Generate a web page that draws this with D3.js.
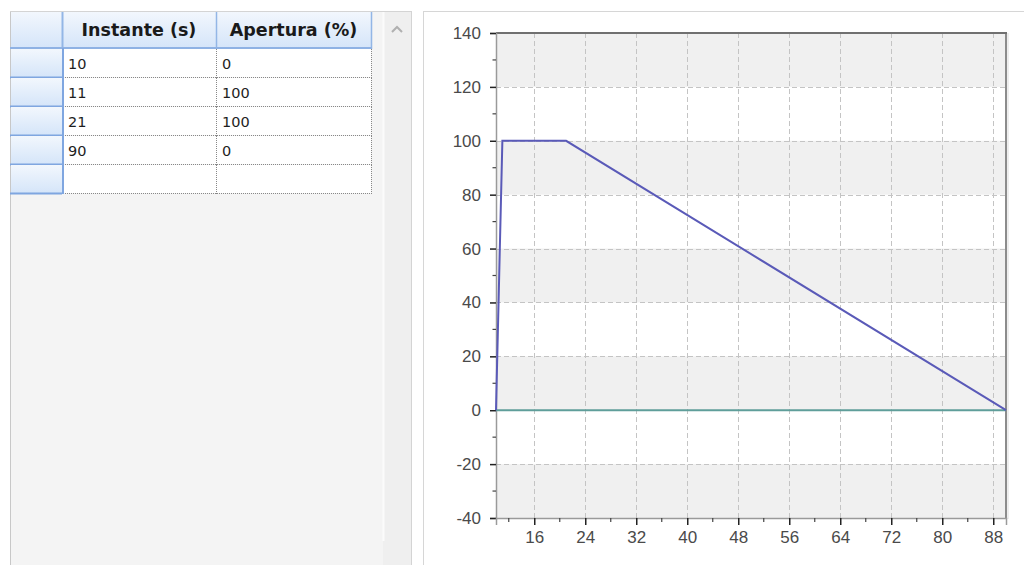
<!DOCTYPE html>
<html><head><meta charset="utf-8">
<script src="https://cdn.jsdelivr.net/npm/d3@7"></script>
<style>html,body{margin:0;padding:0;background:#fff;overflow:hidden}</style>
</head><body>
<svg id="c" width="1024" height="565"></svg>
<script>
// ---- data ----
const columns = ["Instante (s)", "Apertura (%)"];
const instantes = [10, 11, 21, 90];
const aperturas = [0, 100, 100, 0];
const baseX = [10, 90];
const baseY = [0, 0];
const xTickValues = [16, 24, 32, 40, 48, 56, 64, 72, 80, 88];
const yTickValues = [-40, -20, 0, 20, 40, 60, 80, 100, 120, 140];

const svg = d3.select("#c");
const defs = svg.append("defs");
const g1 = defs.append("linearGradient").attr("id","hdr").attr("x1",0).attr("y1",0).attr("x2",0).attr("y2",1);
g1.append("stop").attr("offset","0%").attr("stop-color","#f2f7fd");
g1.append("stop").attr("offset","100%").attr("stop-color","#d5e5f9");

// ---- left table panel ----
const T = {x:10, y:11, hdrH:37, rowH:29, c0:62, c1:216, c2:371, right:383};
svg.append("rect").attr("x",T.x).attr("y",T.y).attr("width",T.right-T.x).attr("height",565-T.y).attr("fill","#f4f4f4");
// scrollbar
svg.append("rect").attr("x",383).attr("y",T.y).attr("width",29).attr("height",565-T.y).attr("fill","#efefef");
svg.append("line").attr("x1",383.5).attr("x2",383.5).attr("y1",T.y).attr("y2",541).attr("stroke","#fbfbfb").attr("stroke-width",2);
svg.append("path").attr("d","M392,32 L397,27 L402,32").attr("fill","none").attr("stroke","#b0b0b0").attr("stroke-width",2);
svg.append("line").attr("x1",411.5).attr("x2",411.5).attr("y1",T.y).attr("y2",565).attr("stroke","#d4d4d4");
svg.append("line").attr("x1",T.x+0.5).attr("x2",T.x+0.5).attr("y1",T.y).attr("y2",565).attr("stroke","#c8c8c8");
svg.append("line").attr("x1",T.x).attr("x2",412).attr("y1",T.y+0.5).attr("y2",T.y+0.5).attr("stroke","#d4d4d4");

// header
const hy = T.y+1;
svg.append("rect").attr("x",T.x+1).attr("y",hy).attr("width",T.c2-T.x-1).attr("height",T.hdrH-1).attr("fill","url(#hdr)");
const colX = [T.c0, T.c1, T.c2];
columns.forEach((c,i)=>{
  svg.append("text").attr("x",(colX[i]+colX[i+1])/2).attr("y",hy+(T.hdrH-1)/2).attr("dy","0.36em")
    .attr("text-anchor","middle").attr("font-family","DejaVu Sans, Verdana, sans-serif").attr("font-weight","bold")
    .attr("font-size",17.5).attr("fill","#1a1a1a").text(c);
});
[T.c0, T.c1, T.c2].forEach(x=>{
  svg.append("line").attr("x1",x+0.5).attr("x2",x+0.5).attr("y1",hy).attr("y2",hy+T.hdrH).attr("stroke","#93b6e6").attr("stroke-width",x===T.c0?2:1.5);
});
const bodyY = T.y+T.hdrH;
svg.append("line").attr("x1",T.x).attr("x2",T.c2+1).attr("y1",bodyY).attr("y2",bodyY).attr("stroke","#8fb2e4").attr("stroke-width",2);

// rows (4 data + 1 empty)
const rows = instantes.map((t,i)=>[String(t), String(aperturas[i])]);
rows.push(["",""]);
rows.forEach((r,i)=>{
  const y = bodyY + 1 + i*T.rowH;
  svg.append("rect").attr("x",T.x+1).attr("y",y).attr("width",T.c0-T.x-1).attr("height",T.rowH-1).attr("fill","url(#hdr)");
  svg.append("line").attr("x1",T.x).attr("x2",T.c0).attr("y1",y+T.rowH-0.5).attr("y2",y+T.rowH-0.5).attr("stroke","#7fa6e0").attr("stroke-width",2);
  svg.append("rect").attr("x",T.c0+1).attr("y",y).attr("width",T.c2-T.c0-1).attr("height",T.rowH-1).attr("fill","#fff");
  svg.append("line").attr("x1",T.c0+1).attr("x2",T.c2).attr("y1",y+T.rowH-0.5).attr("y2",y+T.rowH-0.5).attr("stroke","#888").attr("stroke-dasharray","1,1");
  [T.c1, T.c2].forEach(x=>{
    svg.append("line").attr("x1",x+0.5).attr("x2",x+0.5).attr("y1",y).attr("y2",y+T.rowH).attr("stroke","#888").attr("stroke-dasharray","1,1");
  });
  r.forEach((v,j)=>{
    svg.append("text").attr("x",colX[j]+6).attr("y",y+T.rowH/2).attr("dy","0.36em")
      .attr("font-family","DejaVu Sans, Verdana, sans-serif").attr("font-size",14.5).attr("fill","#1e1e1e").text(v);
  });
});
svg.append("line").attr("x1",T.c0+1).attr("x2",T.c0+1).attr("y1",bodyY).attr("y2",bodyY+rows.length*T.rowH+1).attr("stroke","#7fa6e0").attr("stroke-width",2);

// ---- chart panel ----
svg.append("rect").attr("x",423.5).attr("y",11.5).attr("width",610).attr("height",570).attr("fill","#fff").attr("stroke","#d6d6d6");

const P = {l:496, r:1006, t:33, b:518};
const x = d3.scaleLinear().domain([10,90]).range([P.l,P.r]);
const y = d3.scaleLinear().domain([-40,140]).range([P.b,P.t]);

// bands
const bands = d3.pairs(yTickValues).filter((d,i)=>i%2===0);
svg.append("g").selectAll("rect").data(bands).join("rect")
  .attr("x",P.l).attr("width",P.r-P.l).attr("y",d=>y(d[1])).attr("height",d=>y(d[0])-y(d[1])).attr("fill","#f0f0f0");

// grid
svg.append("g").selectAll("line").data(yTickValues.filter(v=>v!==-40&&v!==140)).join("line")
  .attr("x1",P.l).attr("x2",P.r).attr("y1",d=>Math.round(y(d))+0.5).attr("y2",d=>Math.round(y(d))+0.5)
  .attr("stroke","#c4c4c4").attr("stroke-dasharray","5,3");
svg.append("g").selectAll("line").data(xTickValues).join("line")
  .attr("x1",d=>Math.round(x(d))+0.5).attr("x2",d=>Math.round(x(d))+0.5).attr("y1",P.t).attr("y2",P.b)
  .attr("stroke","#c4c4c4").attr("stroke-dasharray","5,3");

// plot border
svg.append("line").attr("x1",P.r).attr("x2",P.r).attr("y1",P.t).attr("y2",P.b).attr("stroke","#8c8c8c").attr("stroke-width",2);
svg.append("line").attr("x1",P.r+2).attr("x2",P.r+2).attr("y1",P.t).attr("y2",P.b+1).attr("stroke","#dddddd").attr("stroke-width",1);
svg.append("line").attr("x1",P.l).attr("x2",P.r+1).attr("y1",P.t).attr("y2",P.t).attr("stroke","#707070").attr("stroke-width",2);

// axes
const fontAx = "Liberation Sans, Arial, sans-serif";
const fmt = d => String(d);
const yAxis = d3.axisLeft(y).tickValues(yTickValues).tickFormat(fmt).tickSize(6).tickPadding(9);
const ya = svg.append("g").attr("transform",`translate(${P.l},0)`).call(yAxis);
ya.select(".domain").attr("stroke","#9a9a9a").attr("stroke-width",1.5);
ya.selectAll(".tick line").attr("stroke","#222").attr("stroke-width",1.5);
ya.selectAll("text").attr("font-family",fontAx).attr("font-size",17).attr("fill","#4a4a4a");
const yMinor = d3.range(-30,140,20);
ya.append("g").selectAll("line").data(yMinor).join("line")
  .attr("x1",-3.5).attr("x2",0).attr("y1",d=>y(d)).attr("y2",d=>y(d)).attr("stroke","#444").attr("stroke-width",1.2);

const xAxis = d3.axisBottom(x).tickValues(xTickValues).tickFormat(fmt).tickSize(7).tickPadding(6);
const xa = svg.append("g").attr("transform",`translate(0,${P.b})`).call(xAxis);
xa.select(".domain").attr("stroke","#9a9a9a").attr("stroke-width",1.5);
xa.selectAll(".tick line").attr("stroke","#222").attr("stroke-width",1.5);
xa.selectAll("text").attr("font-family",fontAx).attr("font-size",17).attr("fill","#4a4a4a");
const xMinor = d3.range(12,90,8);
xa.append("g").selectAll("line").data(xMinor).join("line")
  .attr("x1",d=>x(d)).attr("x2",d=>x(d)).attr("y1",0).attr("y2",4).attr("stroke","#444").attr("stroke-width",1.2);

// series
const line = d3.line().x(d=>x(d[0])).y(d=>y(d[1]));
svg.append("path").datum(baseX.map((v,i)=>[v,baseY[i]])).attr("d",line)
  .attr("fill","none").attr("stroke","#5f9e9a").attr("stroke-width",2);
svg.append("path").datum(instantes.map((v,i)=>[v,aperturas[i]])).attr("d",line)
  .attr("fill","none").attr("stroke","#5a5ab8").attr("stroke-width",2);
</script>
</body></html>
